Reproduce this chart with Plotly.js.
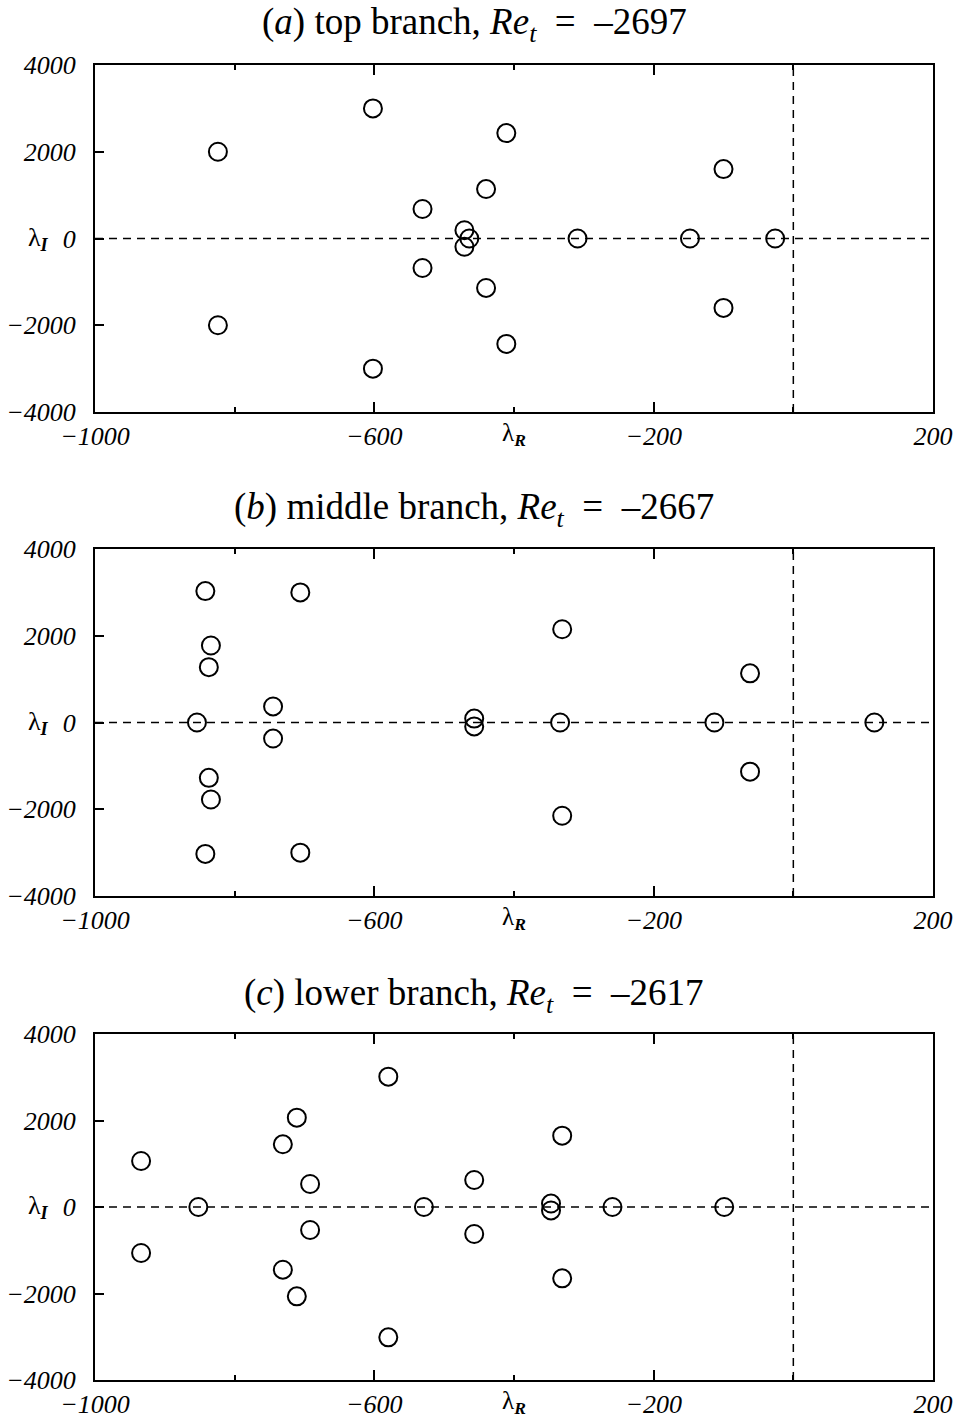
<!DOCTYPE html>
<html>
<head>
<meta charset="utf-8">
<script src="https://cdn.plot.ly/plotly-3.0.1.min.js"></script>
<style>body{margin:0;background:#fff}</style>
</head>
<body>
<div id="chart" style="width:963px;height:1420px"></div>
<script>
// (a) top branch
const aRe = [-824, -824, -602, -602, -411, -411, -440, -440, -531, -531, -471, -471, -464, -309, -148, -26, -100, -100];
const aIm = [2000, -2000, 3000, -3000, 2430, -2430, 1140, -1140, 680, -680, 190, -190, 0, 0, 0, 0, 1600, -1600];
// (b) middle branch
const bRe = [-842, -842, -706, -706, -834, -834, -837, -837, -854, -745, -745, -457, -457, -334, -331, -331, -113, -62, -62, 116];
const bIm = [3030, -3030, 3000, -3000, 1776, -1776, 1276, -1276, 0, 370, -370, 90, -90, 0, 2150, -2150, 0, 1133, -1133, 0];
// (c) lower branch
const cRe = [-934, -934, -852, -711, -711, -731, -731, -692, -692, -580, -580, -529, -457, -457, -347, -347, -331, -331, -259, -99];
const cIm = [1063, -1063, 0, 2065, -2065, 1450, -1450, 532, -532, 3013, -3013, 0, 624, -624, 80, -80, 1650, -1650, 0, 0];

const titles = [
  "(<i>a</i>) top branch, <i>Re</i><sub><i>t</i></sub> \u00a0=\u00a0 \u20132697",
  "(<i>b</i>) middle branch, <i>Re</i><sub><i>t</i></sub> \u00a0=\u00a0 \u20132667",
  "(<i>c</i>) lower branch, <i>Re</i><sub><i>t</i></sub> \u00a0=\u00a0 \u20132617"
];
const xTickVals = [-1000, -600, -200, 200];
const xTickText = ["<i>\u22121000</i>", "<i>\u2212600</i>", "<i>\u2212200</i>", "<i>200</i>"];
const xMinorVals = [-800, -400, 0];
const yTickVals = [-4000, -2000, 0, 2000, 4000];
const yTickText = ["<i>\u22124000</i>", "<i>\u22122000</i>", "<i>0</i>", "<i>2000</i>", "<i>4000</i>"];
const xRange = [-1000, 200];
const yRange = [-4000, 4000];

const series = [[aRe, aIm], [bRe, bIm], [cRe, cIm]];
const H = 1420, W = 963;
const boxes = [[65, 412], [549, 896], [1034, 1380]];
const titleY = [25, 510, 996];
const xL = 95, xR = 933;

const tickFont = {family: "Liberation Serif", size: 26, style: "italic", color: "#000"};
const data = [];
const layout = {
  width: W, height: H,
  margin: {l: 0, r: 0, t: 0, b: 0},
  paper_bgcolor: "#fff", plot_bgcolor: "#fff",
  showlegend: false,
  shapes: [], annotations: []
};

series.forEach((s, i) => {
  const n = i === 0 ? "" : String(i + 1);
  data.push({
    x: s[0], y: s[1], type: "scatter", mode: "markers",
    xaxis: "x" + n, yaxis: "y" + n,
    marker: {symbol: "circle-open", size: 18, color: "#000", line: {width: 2, color: "#000"}},
    hoverinfo: "skip"
  });
  const dom = [1 - boxes[i][1] / H, 1 - boxes[i][0] / H];
  layout["xaxis" + n] = {
    domain: [xL / W, xR / W], range: xRange, anchor: "y" + n,
    tickmode: "array", tickvals: xTickVals, ticktext: xTickText,
    ticks: "inside", ticklen: 10, tickwidth: 2, tickcolor: "#000",
    minor: {tickmode: "array", tickvals: xMinorVals, ticks: "inside", ticklen: 5, tickwidth: 2, tickcolor: "#000"},
    showline: true, linewidth: 2, linecolor: "#000", mirror: "ticks",
    showgrid: false, zeroline: false, tickfont: tickFont, ticklabelstandoff: 0
  };
  layout["yaxis" + n] = {
    domain: dom, range: yRange, anchor: "x" + n,
    tickmode: "array", tickvals: yTickVals, ticktext: yTickText,
    ticks: "inside", ticklen: 9, tickwidth: 2, tickcolor: "#000",
    showline: true, linewidth: 2, linecolor: "#000", mirror: true,
    showgrid: false, zeroline: false, tickfont: tickFont, ticklabelstandoff: 12
  };
  const xr = "x" + n, yr = "y" + n;
  layout.shapes.push({type: "line", xref: xr + " domain", yref: yr, x0: 0, x1: 1, y0: 0, y1: 0,
    line: {color: "#000", width: 1.5, dash: "8px,6px"}, layer: "below"});
  layout.shapes.push({type: "line", xref: xr, yref: yr + " domain", x0: 0, x1: 0, y0: 0, y1: 1,
    line: {color: "#000", width: 1.5, dash: "8px,6px"}, layer: "below"});
  layout.annotations.push({
    text: titles[i], xref: "paper", yref: "paper", x: 474 / W, y: 1 - titleY[i] / H,
    xanchor: "center", yanchor: "middle", showarrow: false,
    font: {family: "Liberation Serif", size: 37, color: "#000"}
  });
  layout.annotations.push({
    text: "\u03bb<sub><b><i>I</i></b></sub>", xref: "paper", yref: yr, x: 38 / W, y: 0,
    xanchor: "center", yanchor: "middle", showarrow: false,
    font: {family: "Liberation Serif", size: 26, color: "#000"}
  });
  layout.annotations.push({
    text: "\u03bb<sub><b><i>R</i></b></sub>", xref: xr, yref: yr + " domain", x: -400, y: 0,
    xanchor: "center", yanchor: "top", yshift: -5, showarrow: false,
    font: {family: "Liberation Serif", size: 25, color: "#000"}
  });
});

Plotly.newPlot("chart", data, layout, {staticPlot: true});
</script>
</body>
</html>
